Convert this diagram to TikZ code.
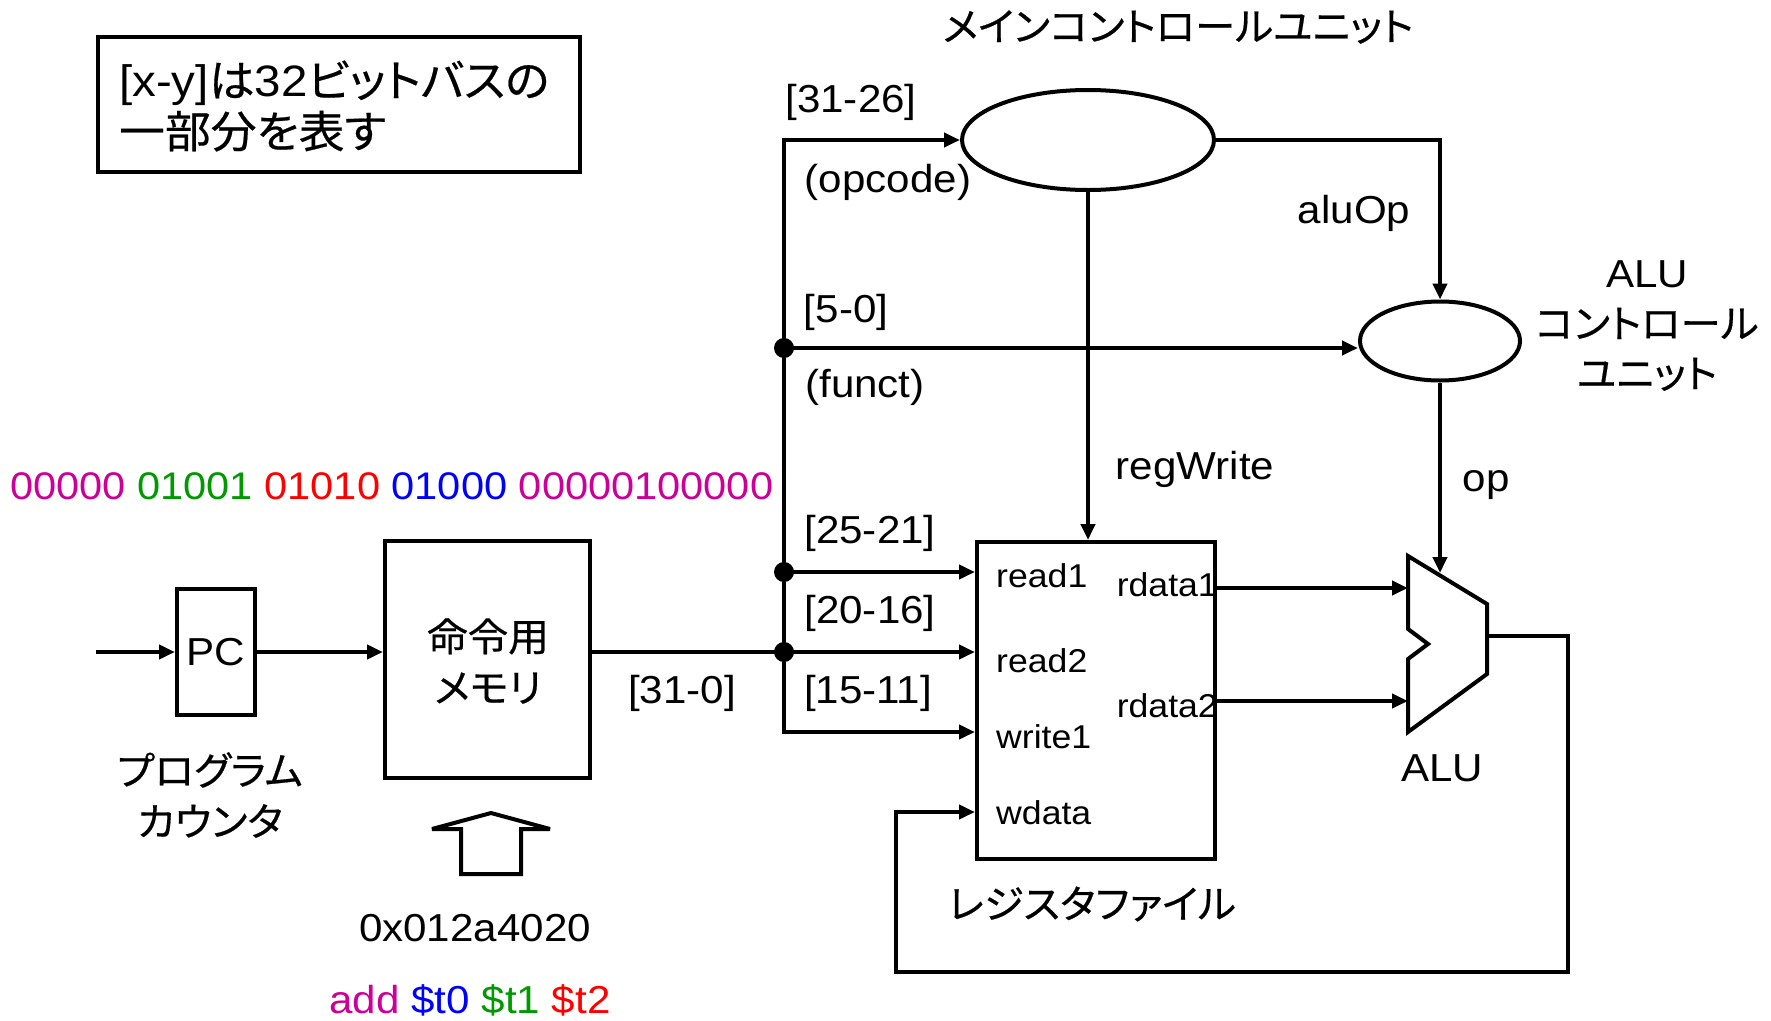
\documentclass[tikz,border=0pt]{standalone}
\usepackage{fontspec}
\setmainfont[FakeStretch=1.08]{Liberation Sans}
\newfontfamily\cjk[RawFeature=+palt,FakeStretch=1.04,FakeBold=0.5]{Noto Sans CJK JP}
\usetikzlibrary{arrows.meta,shapes.geometric}
\definecolor{bitmag}{RGB}{204,0,153}
\definecolor{bitgreen}{RGB}{0,153,0}
\definecolor{bitred}{RGB}{255,0,0}
\definecolor{bitblue}{RGB}{0,0,255}
\tikzset{
  wire/.style={line width=4pt},
  arr/.style={wire,-{Triangle[length=16pt,width=14pt]}},
  box/.style={draw,line width=4pt,inner sep=0pt},
  oval/.style={draw,ellipse,line width=4pt,inner sep=0pt},
  lbl/.style={inner sep=0pt,font=\fontsize{39}{47}\selectfont},
  portlbl/.style={inner sep=0pt,font=\fontsize{33}{40}\selectfont},
  jlbl/.style={inner sep=0pt,align=center,font=\fontsize{39}{51}\selectfont\cjk},
  junction/.style={circle,fill,inner sep=0pt,minimum size=20pt},
}
\begin{document}
\begin{tikzpicture}[x=1pt,y=-1pt]
\useasboundingbox (0,0) rectangle (1771,1020);
\fill[white] (0,0) rectangle (1771,1020);

% legend box
\node[box,minimum width=482pt,minimum height=135pt] (note) at (339,104.5) {};
\node[inner sep=0pt,align=left,anchor=west,font=\fontsize{44}{51}\selectfont] (notetext) at (119,106)
  {[x-y]{\cjk は}32{\cjk ビットバスの}\\{\cjk 一部分を表す}};

% instruction bits
\node[lbl,anchor=west,font=\fontsize{38.5}{46}\selectfont] (bits) at (10,486)
  {\textcolor{bitmag}{00000} \textcolor{bitgreen}{01001} \textcolor{bitred}{01010} \textcolor{bitblue}{01000} \textcolor{bitmag}{00000100000}};

% program counter and instruction memory
\node[box,minimum width=78pt,minimum height=126pt,lbl] (pc) at (216,652) {PC};
\node[jlbl] (pclabel) at (210,795) {プログラム\\カウンタ};
\node[box,minimum width=205pt,minimum height=237pt] (mem) at (487.5,659.5) {};
\node[jlbl] (memlabel) at (488,661) {命令用\\メモリ};

% hollow arrow under the memory
\coordinate (ua1) at (461,874);
\coordinate (ua2) at (461,829);
\coordinate (ua3) at (432,829);
\coordinate (ua4) at (491,813);
\coordinate (ua5) at (550,829);
\coordinate (ua6) at (521,829);
\coordinate (ua7) at (521,874);
\draw[wire,line join=miter,miter limit=2] (ua1) -- (ua2) -- (ua3) -- (ua4) -- (ua5) -- (ua6) -- (ua7) -- cycle;
\node[lbl] (addr) at (475,928) {0x012a4020};
\node[lbl] (asm) at (470,1000)
  {\textcolor{bitmag}{add} \textcolor{bitblue}{\$t0} \textcolor{bitgreen}{\$t1} \textcolor{bitred}{\$t2}};

% control units
\node[oval,minimum width=252pt,minimum height=100pt] (mc) at (1088,140) {};
\node[jlbl] (mctitle) at (1178,27) {メインコントロールユニット};
\node[oval,minimum width=160pt,minimum height=79pt] (ac) at (1440,341) {};
\node[inner sep=0pt,align=center,font=\fontsize{39}{50}\selectfont] (actitle) at (1647,326)
  {ALU\\{\cjk コントロール}\\{\cjk ユニット}};

% register file
\node[box,minimum width=238pt,minimum height=317pt] (reg) at (1096,700.5) {};
\node[jlbl] (reglabel) at (1092,904) {レジスタファイル};
\node[portlbl,anchor=west] (pr1) at (996,576) {read1};
\node[portlbl,anchor=west] (pr2) at (996,661) {read2};
\node[portlbl,anchor=west] (pw1) at (996,737) {write1};
\node[portlbl,anchor=west] (pwd) at (996,813) {wdata};
\node[portlbl,anchor=east] (prd1) at (1218,585) {rdata1};
\node[portlbl,anchor=east] (prd2) at (1218,706) {rdata2};

% ALU
\coordinate (aluA) at (1408,556);
\coordinate (aluB) at (1487,604);
\coordinate (aluC) at (1487,674);
\coordinate (aluD) at (1408,732);
\coordinate (aluE) at (1408,659);
\coordinate (aluF) at (1428,644);
\coordinate (aluG) at (1408,629);
\draw[wire,line join=miter] (aluA) -- (aluB) -- (aluC) -- (aluD) -- (aluE) -- (aluF) -- (aluG) -- cycle;
\coordinate (aluin1) at (1408,588);
\coordinate (aluin2) at (1408,701);
\coordinate (aluout) at (1487,636);
\coordinate (aluop) at (1440,573);
\node[lbl] (alulabel) at (1442,768) {ALU};

% instruction bus
\coordinate (j1) at (784,348);
\coordinate (j2) at (784,572);
\coordinate (j3) at (784,652);
\coordinate (jbot) at (784,732);
\coordinate (wdy) at (0,812);
\coordinate (fbR) at (1568,972);
\coordinate (fbL) at (896,972);

\draw[arr] (pc.west -| note.west) -- (pc.west);
\draw[arr] (pc.east) -- (pc.east -| mem.west);
\draw[wire] (j3 -| mem.east) -- (j3);
\draw[arr] (j3) |- (mc.west);
\draw[arr] (j3) |- (reg.west |- jbot);
\draw[arr] (j1) -- (ac.west |- j1);
\draw[arr] (j2) -- (reg.west |- j2);
\draw[arr] (j3) -- (reg.west |- j3);
\node[junction] (d1) at (j1) {};
\node[junction] (d2) at (j2) {};
\node[junction] (d3) at (j3) {};

% control signals
\draw[arr] (mc.east) -| (ac.north);
\draw[arr] (mc.south) -- (mc.south |- reg.north);
\draw[arr] (ac.south) -- (aluop);

% datapath
\draw[arr] (reg.east |- aluin1) -- (aluin1);
\draw[arr] (reg.east |- aluin2) -- (aluin2);
\draw[arr] (aluout) -| (fbR) -- (fbL) |- (reg.west |- wdy);

% bus labels
\node[lbl] (l3126) at (851,102) {[31-26]};
\node[lbl] (lop) at (888,182) {(opcode)};
\node[lbl] (l50) at (846,312) {[5-0]};
\node[lbl] (lfn) at (865,387) {(funct)};
\node[lbl] (l2521) at (870,533) {[25-21]};
\node[lbl] (l2016) at (870,613) {[20-16]};
\node[lbl] (l1511) at (868,693) {[15-11]};
\node[lbl] (l310) at (682,693) {[31-0]};
\node[lbl] (laluop) at (1354,213) {aluOp};
\node[lbl] (lregw) at (1195,469) {regWrite};
\node[lbl] (lopsig) at (1486,485) {op};
\end{tikzpicture}
\end{document}
